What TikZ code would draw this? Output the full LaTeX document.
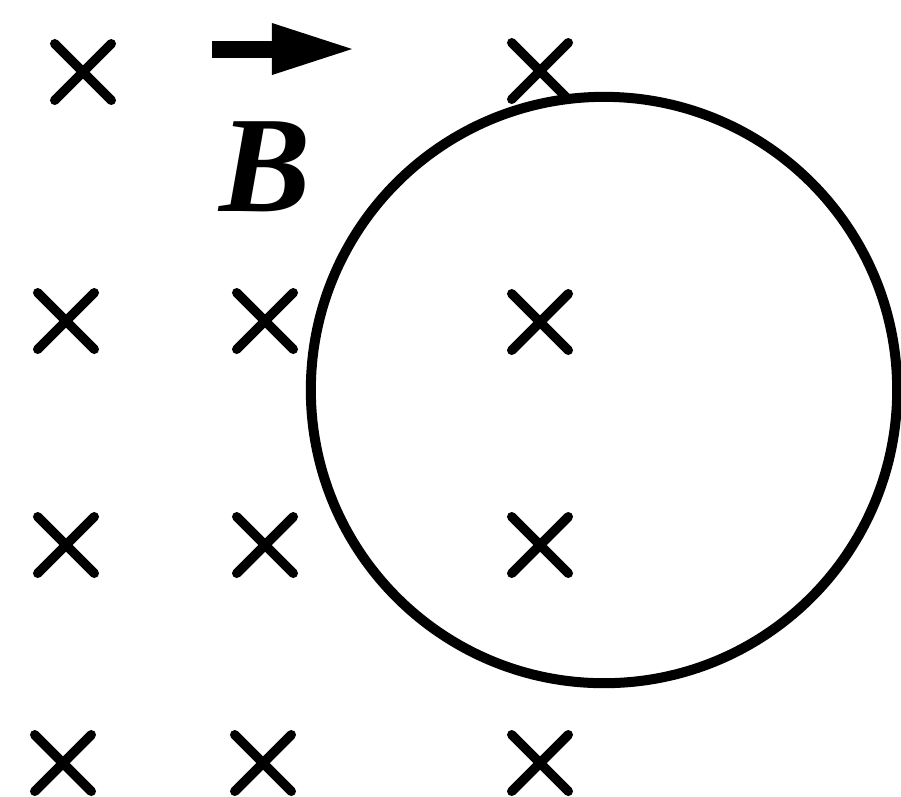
\documentclass[tikz,border=0pt]{standalone}
\usepackage{fontspec}
\setmainfont{Liberation Serif}
\usepackage{tikz}
\usetikzlibrary{arrows.meta,shapes.misc}
\tikzset{
  fieldx/.style    = {cross out, draw=black, line width=0.095cm, minimum size=0.47cm,
                      inner sep=0pt, line cap=round},
  fieldlbl/.style  = {font=\fontsize{39}{41}\selectfont\bfseries\itshape, inner sep=0pt},
  loopring/.style  = {circle, draw=black, line width=0.1cm, minimum size=5.86cm,
                      inner sep=0pt},
  fieldarrow/.style= {line width=0.17cm,
                      -{Triangle[length=0.8cm, width=0.52cm, line width=0pt]}},
}

\begin{document}
\begin{tikzpicture}[x=0.01cm, y=-0.01cm]
  \useasboundingbox (0,0) rectangle (901,796);

  \node[loopring] (ring) at (604,390) {};

  \node[fieldx] (x11) at (83,72)   {};
  \node[fieldx] (x13) at (540,71)  {};
  \node[fieldx] (x21) at (66,321)  {};
  \node[fieldx] (x22) at (265,321) {};
  \node[fieldx] (x23) at (540,322) {};
  \node[fieldx] (x31) at (66,545)  {};
  \node[fieldx] (x32) at (265,545) {};
  \node[fieldx] (x33) at (540,545) {};
  \node[fieldx] (x41) at (63,763)  {};
  \node[fieldx] (x42) at (263,763) {};
  \node[fieldx] (x43) at (540,763) {};

  \coordinate (btail) at (212,49);
  \coordinate (bhead) at (352,49);
  \draw[fieldarrow] (btail) -- (bhead);
  \node[fieldlbl] (blbl) at (265,167) {B};
\end{tikzpicture}
\end{document}
